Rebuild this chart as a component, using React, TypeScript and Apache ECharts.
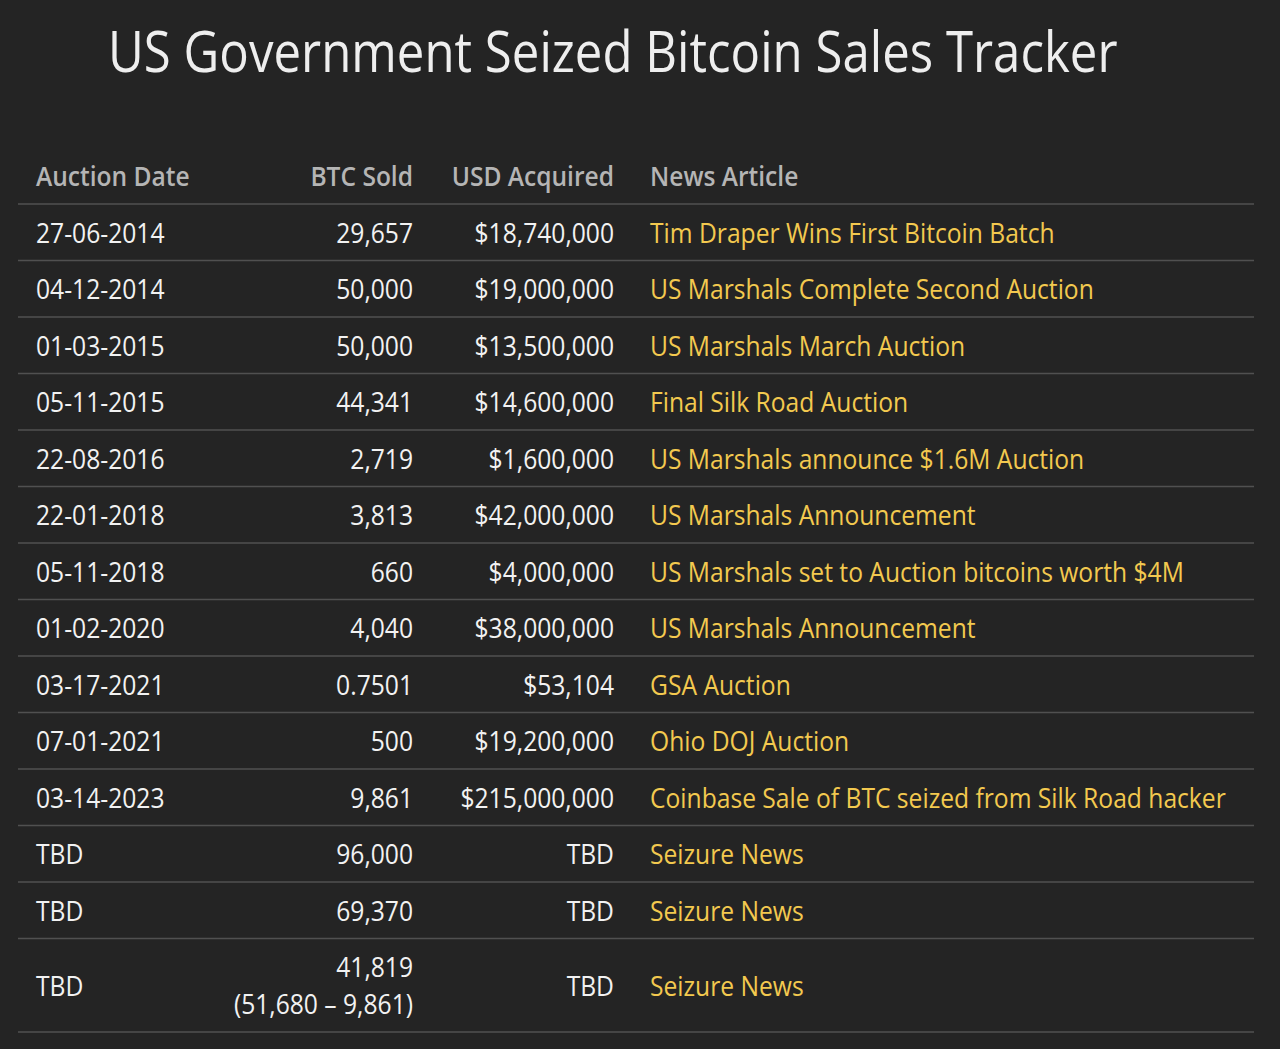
import React, { useEffect, useRef } from "react";
import * as echarts from "echarts";

const titleText = "US Government Seized Bitcoin Sales Tracker";
const headers = ["Auction Date", "BTC Sold", "USD Acquired", "News Article"];
const auctionDates = [
  "27-06-2014", "04-12-2014", "01-03-2015", "05-11-2015", "22-08-2016", "22-01-2018",
  "05-11-2018", "01-02-2020", "03-17-2021", "07-01-2021", "03-14-2023", "TBD", "TBD", "TBD",
];
const btcSold = [
  "29,657", "50,000", "50,000", "44,341", "2,719", "3,813", "660", "4,040", "0.7501",
  "500", "9,861", "96,000", "69,370", "41,819\n(51,680 – 9,861)",
];
const usdAcquired = [
  "$18,740,000", "$19,000,000", "$13,500,000", "$14,600,000", "$1,600,000", "$42,000,000",
  "$4,000,000", "$38,000,000", "$53,104", "$19,200,000", "$215,000,000", "TBD", "TBD", "TBD",
];
const newsArticles = [
  "Tim Draper Wins First Bitcoin Batch",
  "US Marshals Complete Second Auction",
  "US Marshals March Auction",
  "Final Silk Road Auction",
  "US Marshals announce $1.6M Auction",
  "US Marshals Announcement",
  "US Marshals set to Auction bitcoins worth $4M",
  "US Marshals Announcement",
  "GSA Auction",
  "Ohio DOJ Auction",
  "Coinbase Sale of BTC seized from Silk Road hacker",
  "Seizure News",
  "Seizure News",
  "Seizure News",
];

const FONT = "'Open Sans', 'Noto Sans', sans-serif";
const SX = 0.88;

export default function App() {
  const ref = useRef<HTMLDivElement>(null);
  useEffect(() => {
    document.body.style.margin = "0";
    document.body.style.background = "#242424";
    const chart = echarts.init(ref.current!, null, { renderer: "svg" });

    const headerBottom = 204;
    const baseH = 56.5;
    const lineStep = 37;
    const rowHeights = btcSold.map((s) => baseH + (s.split("\n").length - 1) * lineStep);
    const rowTops: number[] = [];
    let acc = headerBottom;
    rowHeights.forEach((h) => {
      rowTops.push(acc);
      acc += h;
    });

    const colX = [36, 413, 614, 650];
    const colAlign = ["left", "right", "right", "left"];
    const lineLeft = 18;
    const lineRight = 1254;
    const lineColor = "#505050";

    const mkText = (x: number, y: number, text: string, align: string, color: string, size: number, weight: any, lh?: number, sx?: number) => ({
      type: "text",
      x,
      y,
      scaleX: sx || SX,
      scaleY: 1,
      silent: true,
      style: {
        x: 0,
        y: 0,
        text,
        fill: color,
        fontFamily: FONT,
        fontSize: size,
        fontWeight: weight,
        lineHeight: lh || size * 1.3,
        align,
        verticalAlign: "middle",
      },
    });

    const option: any = {
      animation: false,
      backgroundColor: "#242424",
      grid: { left: 0, right: 0, top: 0, bottom: 0 },
      xAxis: { type: "value", min: 0, max: 1280, show: false },
      yAxis: { type: "value", min: 0, max: 1049, inverse: true, show: false },
      graphic: [
        mkText(108, 50, titleText, "left", "#eeeeee", 56, 400, undefined, 0.878),
        ...headers.map((h, j) => mkText(colX[j], 176, h, colAlign[j], "#b5b5b5", 27, 600, undefined, 0.91)),
        {
          type: "line",
          silent: true,
          shape: { x1: lineLeft, y1: headerBottom, x2: lineRight, y2: headerBottom },
          style: { stroke: lineColor, lineWidth: 1.5 },
        },
      ],
      series: [
        {
          type: "custom",
          clip: false,
          data: auctionDates.map((_, i) => [0, i]),
          renderItem: (params: any, api: any) => {
            const i = params.dataIndex;
            const top = rowTops[i];
            const bottom = top + rowHeights[i];
            const mid = (top + bottom) / 2;
            const [lx, by] = api.coord([lineLeft, bottom]);
            const [rx] = api.coord([lineRight, bottom]);
            const [, my] = api.coord([0, mid]);
            const cx = colX.map((x) => api.coord([x, mid])[0]);
            return {
              type: "group",
              children: [
                {
                  type: "line",
                  shape: { x1: lx, y1: by, x2: rx, y2: by },
                  style: { stroke: lineColor, lineWidth: 1.5 },
                },
                mkText(cx[0], my, auctionDates[i], "left", "#f2f2f2", 28, 400),
                mkText(cx[1], my, btcSold[i], "right", "#f2f2f2", 28, 400, lineStep),
                mkText(cx[2], my, usdAcquired[i], "right", "#f2f2f2", 28, 400),
                mkText(cx[3], my, newsArticles[i], "left", "#f3c94f", 28, 400),
              ],
            };
          },
        },
      ],
    };
    chart.setOption(option);
    return () => chart.dispose();
  }, []);
  return <div ref={ref} style={{ width: 1280, height: 1049 }} />;
}
